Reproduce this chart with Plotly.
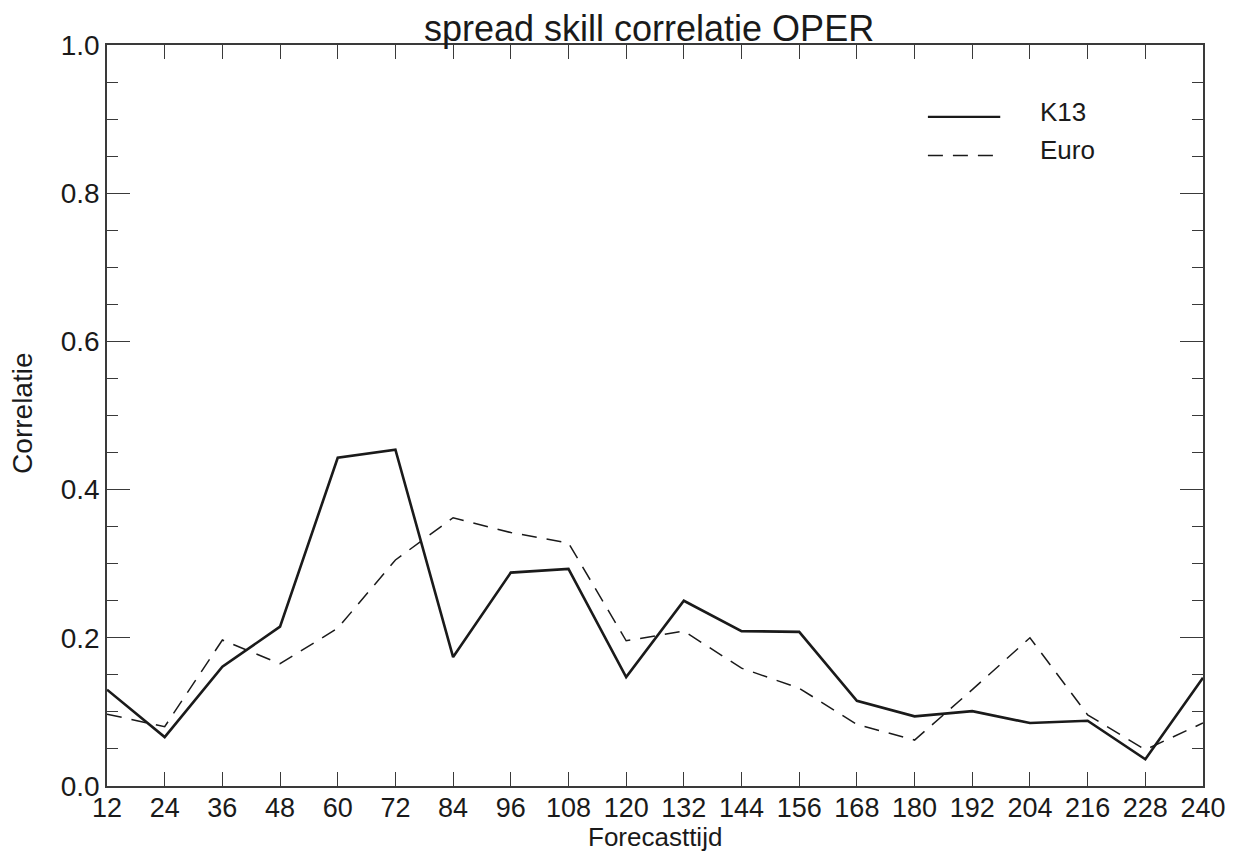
import plotly.graph_objects as go

# Forecast lead times (hours)
forecast_hours = [12, 24, 36, 48, 60, 72, 84, 96, 108, 120,
                  132, 144, 156, 168, 180, 192, 204, 216, 228, 240]

# Spread-skill correlation per lead time
k13_corr = [0.130, 0.066, 0.161, 0.215, 0.443, 0.454, 0.174, 0.288, 0.293, 0.147,
            0.250, 0.209, 0.208, 0.115, 0.094, 0.101, 0.085, 0.088, 0.036, 0.146]
euro_corr = [0.097, 0.080, 0.197, 0.165, 0.213, 0.305, 0.362, 0.342, 0.328, 0.196,
             0.209, 0.159, 0.132, 0.083, 0.062, 0.130, 0.200, 0.096, 0.049, 0.085]

series_names = ["K13", "Euro"]
y_ticks = [0.0, 0.2, 0.4, 0.6, 0.8, 1.0]

FONT = "Liberation Sans, Arial, Helvetica, sans-serif"
INK = "#1a1a1a"
AXIS = "#3a3a3a"

fig = go.Figure()
fig.add_trace(go.Scatter(x=forecast_hours, y=k13_corr, mode="lines", name=series_names[0],
                         line=dict(color=INK, width=2.6), showlegend=False))
fig.add_trace(go.Scatter(x=forecast_hours, y=euro_corr, mode="lines", name=series_names[1],
                         line=dict(color=INK, width=1.5, dash="15px,10px"), showlegend=False))

# Legend drawn as line samples with labels in the upper right
legend_rows = [(0.903, 0.909, "solid", 2.2), (0.851, 0.858, "15px,10px", 1.5)]
for name, (ly, ty, dash, w) in zip(series_names, legend_rows):
    fig.add_shape(type="line", xref="paper", yref="paper", x0=0.749, x1=0.815, y0=ly, y1=ly,
                  line=dict(color=INK, width=w, dash=dash))
    fig.add_annotation(xref="paper", yref="paper", x=0.849, y=ty, text=name, showarrow=False,
                       xanchor="left", yanchor="middle", font=dict(family=FONT, size=26, color=INK))

# Axis titles
fig.add_annotation(xref="paper", yref="paper", x=0.5, y=-0.0695, text="Forecasttijd",
                   showarrow=False, xanchor="center", yanchor="middle",
                   font=dict(family=FONT, size=26, color=INK))
fig.add_annotation(xref="paper", yref="paper", x=-0.077, y=0.503, text="Correlatie",
                   showarrow=False, xanchor="center", yanchor="middle", textangle=-90,
                   font=dict(family=FONT, size=28, color=INK))

fig.update_layout(
    width=1234, height=852,
    margin=dict(l=107, r=31, t=45, b=66),
    paper_bgcolor="white", plot_bgcolor="white",
    font=dict(family=FONT, color=INK),
    title=dict(text="spread skill correlatie OPER", x=0.526, xanchor="center",
               y=0.967, yanchor="middle", font=dict(family=FONT, size=36, color=INK)),
)

fig.update_xaxes(
    range=[12, 240], tickmode="array", tickvals=forecast_hours,
    ticktext=[str(h) for h in forecast_hours],
    ticks="inside", ticklen=14, tickwidth=1.2, tickcolor=AXIS,
    showline=True, linecolor=AXIS, linewidth=1.5, mirror="ticks",
    showgrid=False, zeroline=False, automargin=False, ticklabelstandoff=-3,
    tickfont=dict(family=FONT, size=27, color=INK),
)
fig.update_yaxes(
    range=[0, 1.0], tickmode="array", tickvals=y_ticks,
    ticktext=[f"{v:.1f}" for v in y_ticks],
    ticks="inside", ticklen=23, tickwidth=1.2, tickcolor=AXIS,
    minor=dict(dtick=0.05, ticks="inside", ticklen=11, tickwidth=1.2, tickcolor=AXIS, showgrid=False),
    showline=True, linecolor=AXIS, linewidth=1.5, mirror="ticks",
    showgrid=False, zeroline=False, automargin=False,
    tickfont=dict(family=FONT, size=28, color=INK),
)

fig.write_html("out.html")
